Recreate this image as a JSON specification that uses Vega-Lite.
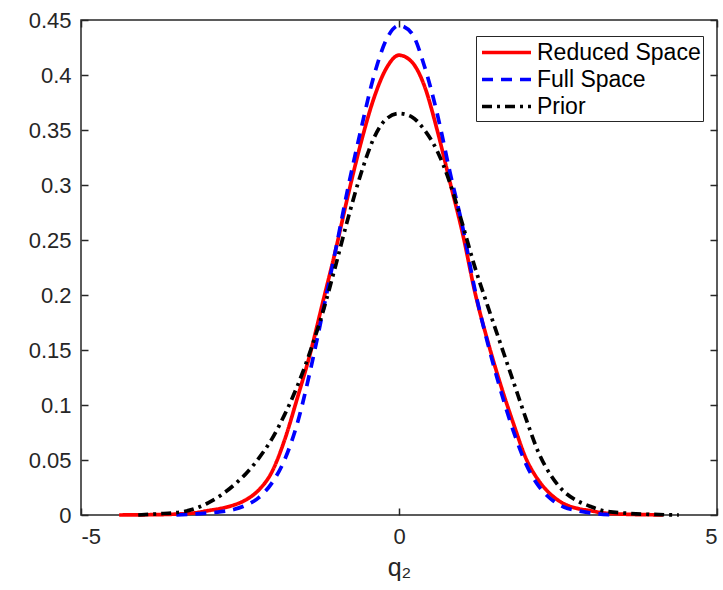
{
  "$schema": "https://vega.github.io/schema/vega-lite/v6.json",
  "width": 636,
  "height": 495,
  "autosize": {"type": "none"},
  "padding": {"left": 81, "top": 20, "right": 6, "bottom": 75},
  "background": "white",
  "config": {
    "view": {"stroke": "#262626", "strokeWidth": 1.5},
    "font": "Liberation Sans",
    "axis": {
      "labelFont": "Liberation Sans",
      "labelFontSize": 22,
      "labelColor": "#262626",
      "titleFont": "Liberation Sans",
      "titleColor": "#262626",
      "domain": false,
      "tickColor": "#262626",
      "tickWidth": 1.5,
      "tickSize": 7,
      "offset": -7,
      "grid": false
    }
  },
  "data": {"values": [
    {"s": "Reduced Space", "q": -4.4, "p": 0.0},
    {"s": "Reduced Space", "q": -4.0, "p": 0.0002},
    {"s": "Reduced Space", "q": -3.6, "p": 0.0006},
    {"s": "Reduced Space", "q": -3.2, "p": 0.002},
    {"s": "Reduced Space", "q": -3.0, "p": 0.004},
    {"s": "Reduced Space", "q": -2.8, "p": 0.006},
    {"s": "Reduced Space", "q": -2.6, "p": 0.009},
    {"s": "Reduced Space", "q": -2.4, "p": 0.014},
    {"s": "Reduced Space", "q": -2.2, "p": 0.023},
    {"s": "Reduced Space", "q": -2.0, "p": 0.039},
    {"s": "Reduced Space", "q": -1.8, "p": 0.068},
    {"s": "Reduced Space", "q": -1.6, "p": 0.106},
    {"s": "Reduced Space", "q": -1.4, "p": 0.146},
    {"s": "Reduced Space", "q": -1.2, "p": 0.193},
    {"s": "Reduced Space", "q": -1.0, "p": 0.24},
    {"s": "Reduced Space", "q": -0.8, "p": 0.291},
    {"s": "Reduced Space", "q": -0.6, "p": 0.338},
    {"s": "Reduced Space", "q": -0.4, "p": 0.378},
    {"s": "Reduced Space", "q": -0.2, "p": 0.406},
    {"s": "Reduced Space", "q": 0.0, "p": 0.418},
    {"s": "Reduced Space", "q": 0.2, "p": 0.412},
    {"s": "Reduced Space", "q": 0.4, "p": 0.39},
    {"s": "Reduced Space", "q": 0.6, "p": 0.35},
    {"s": "Reduced Space", "q": 0.8, "p": 0.303},
    {"s": "Reduced Space", "q": 1.0, "p": 0.256},
    {"s": "Reduced Space", "q": 1.2, "p": 0.201},
    {"s": "Reduced Space", "q": 1.4, "p": 0.157},
    {"s": "Reduced Space", "q": 1.6, "p": 0.118},
    {"s": "Reduced Space", "q": 1.8, "p": 0.083},
    {"s": "Reduced Space", "q": 2.0, "p": 0.051},
    {"s": "Reduced Space", "q": 2.2, "p": 0.031},
    {"s": "Reduced Space", "q": 2.4, "p": 0.018},
    {"s": "Reduced Space", "q": 2.6, "p": 0.01},
    {"s": "Reduced Space", "q": 2.8, "p": 0.006},
    {"s": "Reduced Space", "q": 3.0, "p": 0.004},
    {"s": "Reduced Space", "q": 3.2, "p": 0.002},
    {"s": "Reduced Space", "q": 3.6, "p": 0.0006},
    {"s": "Reduced Space", "q": 4.0, "p": 0.0002},
    {"s": "Reduced Space", "q": 4.15, "p": 0.0},
    {"s": "Full Space", "q": -3.5, "p": 0.0},
    {"s": "Full Space", "q": -3.2, "p": 0.001},
    {"s": "Full Space", "q": -2.8, "p": 0.003},
    {"s": "Full Space", "q": -2.6, "p": 0.005},
    {"s": "Full Space", "q": -2.4, "p": 0.009},
    {"s": "Full Space", "q": -2.2, "p": 0.016},
    {"s": "Full Space", "q": -2.0, "p": 0.029},
    {"s": "Full Space", "q": -1.8, "p": 0.05},
    {"s": "Full Space", "q": -1.6, "p": 0.083},
    {"s": "Full Space", "q": -1.4, "p": 0.13},
    {"s": "Full Space", "q": -1.2, "p": 0.184},
    {"s": "Full Space", "q": -1.0, "p": 0.24},
    {"s": "Full Space", "q": -0.8, "p": 0.298},
    {"s": "Full Space", "q": -0.6, "p": 0.35},
    {"s": "Full Space", "q": -0.4, "p": 0.398},
    {"s": "Full Space", "q": -0.2, "p": 0.432},
    {"s": "Full Space", "q": 0.0, "p": 0.445},
    {"s": "Full Space", "q": 0.2, "p": 0.438},
    {"s": "Full Space", "q": 0.4, "p": 0.408},
    {"s": "Full Space", "q": 0.6, "p": 0.365},
    {"s": "Full Space", "q": 0.8, "p": 0.312},
    {"s": "Full Space", "q": 1.0, "p": 0.262},
    {"s": "Full Space", "q": 1.2, "p": 0.203},
    {"s": "Full Space", "q": 1.4, "p": 0.155},
    {"s": "Full Space", "q": 1.6, "p": 0.113},
    {"s": "Full Space", "q": 1.8, "p": 0.076},
    {"s": "Full Space", "q": 2.0, "p": 0.046},
    {"s": "Full Space", "q": 2.2, "p": 0.026},
    {"s": "Full Space", "q": 2.4, "p": 0.014},
    {"s": "Full Space", "q": 2.6, "p": 0.007},
    {"s": "Full Space", "q": 2.8, "p": 0.004},
    {"s": "Full Space", "q": 3.0, "p": 0.002},
    {"s": "Full Space", "q": 3.4, "p": 0.0},
    {"s": "Prior", "q": -4.1, "p": 0.0},
    {"s": "Prior", "q": -3.8, "p": 0.001},
    {"s": "Prior", "q": -3.4, "p": 0.003},
    {"s": "Prior", "q": -3.0, "p": 0.011},
    {"s": "Prior", "q": -2.8, "p": 0.018},
    {"s": "Prior", "q": -2.6, "p": 0.027},
    {"s": "Prior", "q": -2.4, "p": 0.038},
    {"s": "Prior", "q": -2.2, "p": 0.052},
    {"s": "Prior", "q": -2.0, "p": 0.069},
    {"s": "Prior", "q": -1.8, "p": 0.091},
    {"s": "Prior", "q": -1.6, "p": 0.117},
    {"s": "Prior", "q": -1.4, "p": 0.148},
    {"s": "Prior", "q": -1.2, "p": 0.184},
    {"s": "Prior", "q": -1.0, "p": 0.226},
    {"s": "Prior", "q": -0.8, "p": 0.27},
    {"s": "Prior", "q": -0.6, "p": 0.31},
    {"s": "Prior", "q": -0.4, "p": 0.342},
    {"s": "Prior", "q": -0.2, "p": 0.36},
    {"s": "Prior", "q": 0.0, "p": 0.365},
    {"s": "Prior", "q": 0.2, "p": 0.362},
    {"s": "Prior", "q": 0.4, "p": 0.35},
    {"s": "Prior", "q": 0.6, "p": 0.331},
    {"s": "Prior", "q": 0.8, "p": 0.302},
    {"s": "Prior", "q": 1.0, "p": 0.264},
    {"s": "Prior", "q": 1.2, "p": 0.224},
    {"s": "Prior", "q": 1.4, "p": 0.189},
    {"s": "Prior", "q": 1.6, "p": 0.155},
    {"s": "Prior", "q": 1.8, "p": 0.121},
    {"s": "Prior", "q": 2.0, "p": 0.087},
    {"s": "Prior", "q": 2.2, "p": 0.056},
    {"s": "Prior", "q": 2.4, "p": 0.035},
    {"s": "Prior", "q": 2.6, "p": 0.021},
    {"s": "Prior", "q": 2.8, "p": 0.013},
    {"s": "Prior", "q": 3.0, "p": 0.008},
    {"s": "Prior", "q": 3.2, "p": 0.004},
    {"s": "Prior", "q": 3.6, "p": 0.0015},
    {"s": "Prior", "q": 4.0, "p": 0.0005},
    {"s": "Prior", "q": 4.4, "p": 0.0}
  ]},
  "layer": [
    {
      "mark": {"type": "line", "strokeWidth": 3.7, "interpolate": "monotone"},
      "encoding": {
        "x": {"field": "q", "type": "quantitative", "scale": {"domain": [-5, 5], "nice": false, "zero": false},
          "axis": {"values": [-5, 0, 5], "labelExpr": "'' + datum.value", "labelPadding": 11, "title": "q₂", "titleFontSize": 25, "titlePadding": 8, "titleFontWeight": "normal"}},
        "y": {"field": "p", "type": "quantitative", "scale": {"domain": [0, 0.45], "nice": false},
          "axis": {"values": [0, 0.05, 0.1, 0.15, 0.2, 0.25, 0.3, 0.35, 0.4, 0.45], "labelExpr": "'' + datum.value", "labelPadding": 10, "title": null}},
        "color": {"field": "s", "type": "nominal",
          "scale": {"domain": ["Reduced Space", "Full Space", "Prior"], "range": ["#ff0000", "#0000ff", "#000000"]},
          "legend": {"title": null, "orient": "none", "legendX": 395, "legendY": 16, "symbolType": "M-2,0H2", "symbolSize": 600, "symbolStrokeWidth": 3.7, "symbolFillColor": "transparent", "symbolOffset": 14, "labelFontSize": 23, "labelLimit": 400, "labelColor": "#000000", "labelFont": "Liberation Sans", "strokeColor": "#262626", "fillColor": "white", "padding": 2, "labelOffset": 16, "rowPadding": -4}},
        "strokeDash": {"field": "s", "type": "nominal",
          "scale": {"domain": ["Reduced Space", "Full Space", "Prior"], "range": [[1, 0], [11, 8], [10, 5, 3, 5]]},
          "legend": null}
      }
    },
    {
      "mark": {"type": "line", "opacity": 0},
      "encoding": {
        "x": {"field": "q", "type": "quantitative", "scale": {"domain": [-5, 5], "nice": false, "zero": false},
          "axis": {"orient": "top", "values": [-5, 0, 5], "labels": false, "title": null}},
        "y": {"field": "p", "type": "quantitative", "scale": {"domain": [0, 0.45], "nice": false},
          "axis": {"orient": "right", "values": [0, 0.05, 0.1, 0.15, 0.2, 0.25, 0.3, 0.35, 0.4, 0.45], "labels": false, "title": null}},
        "detail": {"field": "s", "type": "nominal"}
      }
    }
  ],
  "resolve": {"scale": {"x": "independent", "y": "independent"}}
}
